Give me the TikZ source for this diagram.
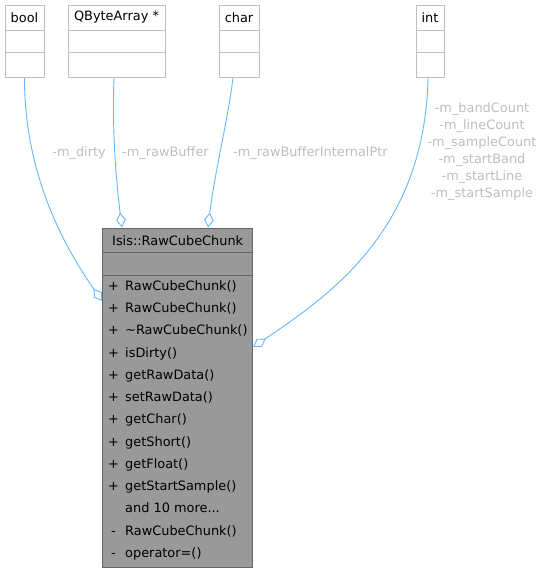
\documentclass[tikz,border=0pt]{standalone}
\usepackage{fontspec}
\setmainfont{DejaVu Sans}
\usetikzlibrary{arrows.meta}
\definecolor{edgeblue}{HTML}{63B8FF}
\definecolor{lblgray}{HTML}{BEBEBE}
\definecolor{boxgray}{HTML}{BFBFBF}
\definecolor{mainfill}{HTML}{999999}
\definecolor{mainborder}{HTML}{666666}
\newcommand\andmoretext{and 10 more...}
\begin{document}
\begin{tikzpicture}[x=1pt,y=-1pt,
  font=\fontsize{12.9}{15}\selectfont,
  smallbox/.style={draw=boxgray, line width=1pt, fill=white, inner sep=0pt, minimum height=72pt},
  mainbox/.style={draw=mainborder, line width=1pt, fill=mainfill, inner sep=0pt, minimum width=150pt, minimum height=339pt},
  sep/.style={draw=boxgray, line width=1pt},
  mainsep/.style={draw=mainborder, line width=1pt},
  title/.style={inner sep=0pt, anchor=center},
  mem/.style={inner sep=0pt, anchor=base west},
  vis/.style={inner sep=0pt, anchor=base},
  elabel/.style={inner sep=0pt, text=lblgray},
  assoc/.style={draw=edgeblue, line width=0.9pt, arrows={Diamond[fill=white,length=15pt,width=9.5pt]-}}
]
\useasboundingbox (0,0) rectangle (542,573);

% small boxes
\node[smallbox, minimum width=39pt] (bool) at (24.5,41) {};
\draw[sep] (5,30) -- (44,30) (5,52) -- (44,52);
\node[title] (booltitle) at (24.5,17.5) {bool};

\node[smallbox, minimum width=97pt] (qba) at (116.5,41) {};
\draw[sep] (68,30) -- (165,30) (68,52) -- (165,52);
\node[title] (qbatitle) at (116.5,17.5) {QByteArray *};

\node[smallbox, minimum width=40pt] (chr) at (239,41) {};
\draw[sep] (219,30) -- (259,30) (219,52) -- (259,52);
\node[title] (chrtitle) at (239,17.5) {char};

\node[smallbox, minimum width=28pt] (int) at (430,41) {};
\draw[sep] (416,30) -- (444,30) (416,52) -- (444,52);
\node[title] (inttitle) at (430,17.5) {int};

% main class box
\node[mainbox] (main) at (177.7,397.5) {};
\draw[mainsep] (102.7,252) -- (252.7,252) (102.7,275) -- (252.7,275);
\node[title] (maintitle) at (177.7,240.5) {Isis::RawCubeChunk};

\foreach \v/\t [count=\i from 0] in {
  +/RawCubeChunk(),
  +/RawCubeChunk(),
  +/\textasciitilde RawCubeChunk(),
  +/isDirty(),
  +/getRawData(),
  +/setRawData(),
  +/getChar(),
  +/getShort(),
  +/getFloat(),
  +/getStartSample(),
  {}/\andmoretext,
  -/RawCubeChunk(),
  -/operator=()}
{
  \pgfmathsetmacro{\yy}{286+22.25*\i+4.3}
  \node[vis] (v\i) at (113.5,\yy) {\v};
  \node[mem] (m\i) at (125,\yy) {\t};
}

% connectors
\draw[assoc] (main.west |- 0,301) .. controls (70,255) and (24,180) .. (bool.south);
\draw[assoc] (main.north -| 122,0) .. controls (116,180) and (112,130) .. (qba.south -| 114,0);
\draw[assoc] (main.north -| 208,0) .. controls (215,170) and (228,120) .. (chr.south -| 233,0);
\draw[assoc] (main.east |- 0,347) .. controls (330,295) and (425,230) .. (int.south -| 428,0);

% edge labels
\node[elabel, anchor=base east] (ldirty) at (106,156.5) {-m\_dirty};
\node[elabel, anchor=base west] (lraw) at (122,156.5) {-m\_rawBuffer};
\node[elabel, anchor=base west] (lptr) at (233,156.5) {-m\_rawBufferInternalPtr};
\node[elabel, align=center, font=\fontsize{12.9}{17.1}\selectfont, anchor=center] (lint) at (482,151.5)
  {-m\_bandCount\\-m\_lineCount\\-m\_sampleCount\\-m\_startBand\\-m\_startLine\\-m\_startSample};
\end{tikzpicture}
\end{document}
